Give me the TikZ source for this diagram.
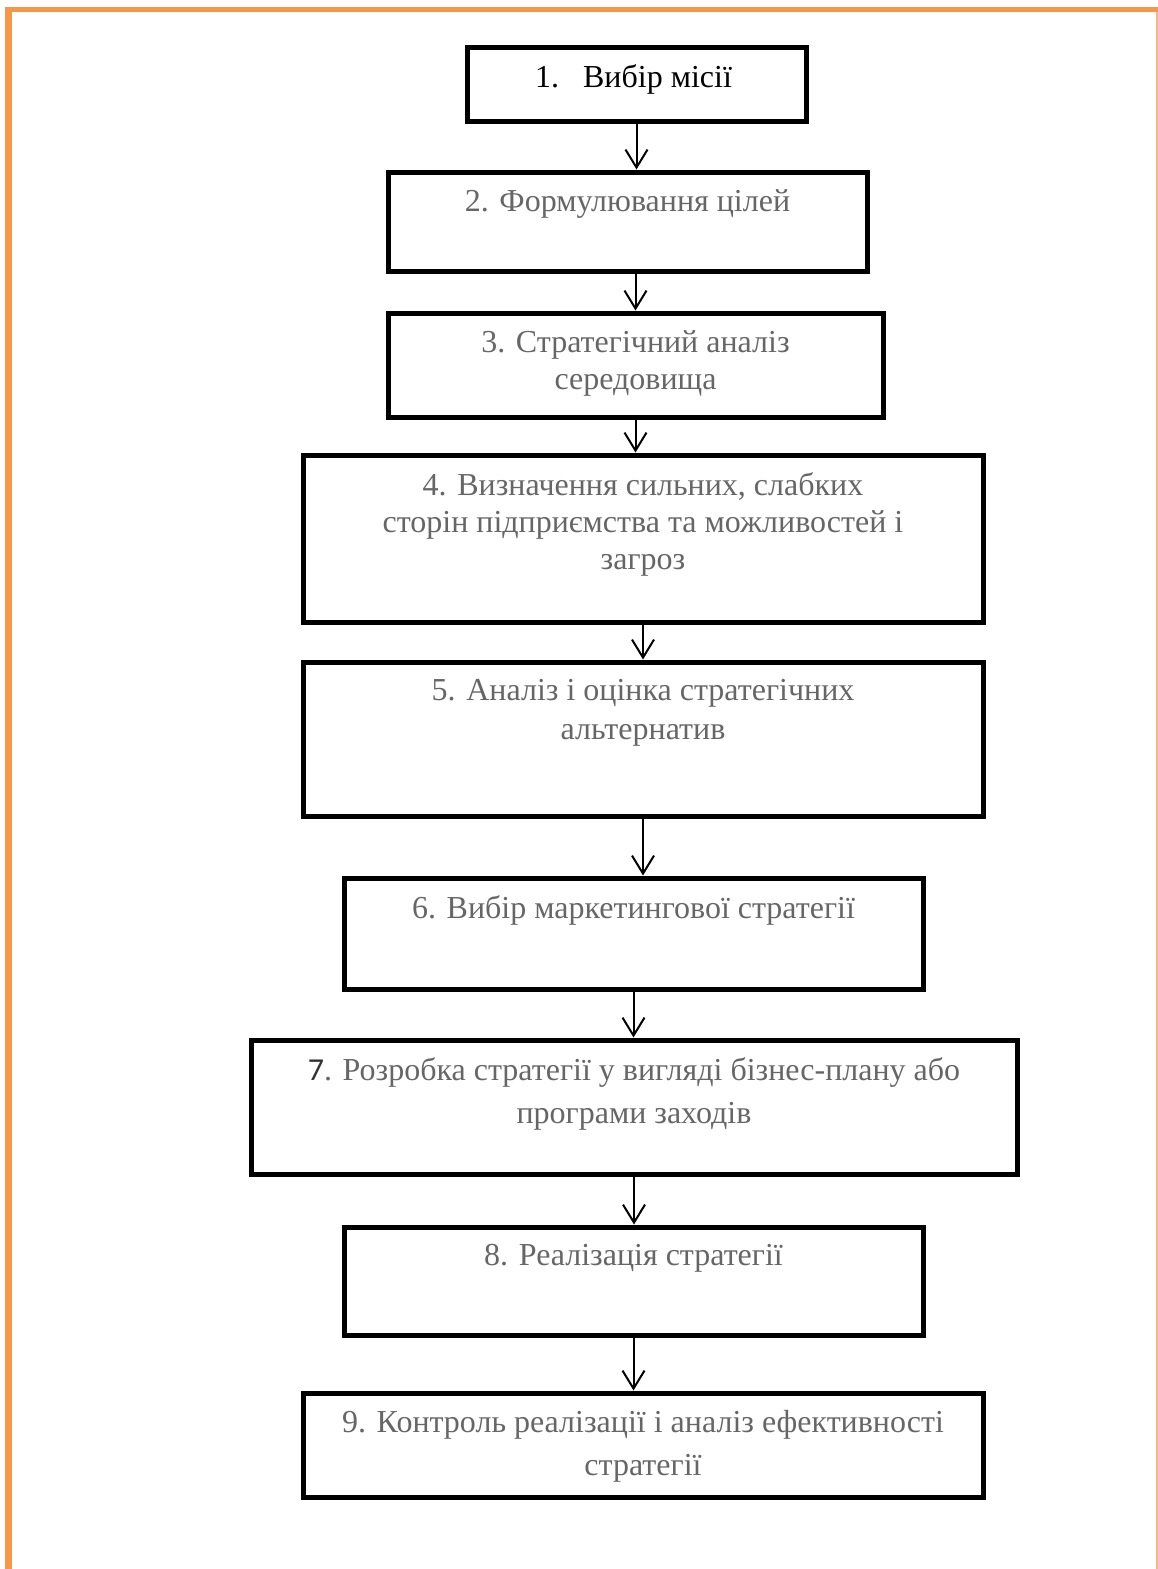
\documentclass[tikz,border=0pt]{standalone}
\usepackage{fontspec}
\setmainfont{Liberation Serif}
\newfontfamily\digitfont{Carlito}
\usetikzlibrary{arrows.meta,positioning}
\definecolor{frameorange}{RGB}{247,150,70}
\definecolor{textgray}{RGB}{102,102,102}
\tikzset{
  stepbox/.style={
    draw=black,
    line width=5pt,
    inner sep=0pt
  },
  steptext/.style={
    anchor=north,
    align=center,
    inner sep=0pt,
    text=textgray,
    font=\fontsize{32}{37}\selectfont
  },
  arrow/.style={
    -{Straight Barb[length=18pt,width=22pt]},
    line width=2pt
  }
}

\begin{document}
\begin{tikzpicture}[x=1pt,y=-1pt]
\useasboundingbox (0,0) rectangle (1158,1569);
% page frame
\fill[frameorange] (5,7) rectangle (12,1569);
\fill[frameorange] (5,7) rectangle (1158,12);
\fill[frameorange!70] (1156,12) rectangle (1158,1569);

\node[stepbox, minimum width=339pt, minimum height=74pt] (b1) at (636.5,84) {};
\node[stepbox, minimum width=479pt, minimum height=99pt] (b2) at (627.5,221.5) {};
\node[stepbox, minimum width=495pt, minimum height=104pt] (b3) at (635.5,365) {};
\node[stepbox, minimum width=680pt, minimum height=167pt] (b4) at (643,538.5) {};
\node[stepbox, minimum width=680pt, minimum height=154pt] (b5) at (643,739) {};
\node[stepbox, minimum width=579pt, minimum height=111pt] (b6) at (633.5,933.5) {};
\node[stepbox, minimum width=766pt, minimum height=134pt] (b7) at (634,1107) {};
\node[stepbox, minimum width=579pt, minimum height=108pt] (b8) at (633.5,1281) {};
\node[stepbox, minimum width=680pt, minimum height=104pt] (b9) at (643,1445) {};

\node[steptext, text=black, below=20pt of b1.north, xshift=-3pt] (t1) {1.\hspace{24pt}Вибір місії};
\node[steptext, below=20pt of b2.north] (t2) {2. Формулювання цілей};
\node[steptext, below=20pt of b3.north] (t3) {3. Стратегічний аналіз\\середовища};
\node[steptext, below=20pt of b4.north] (t4) {4. Визначення сильних, слабких\\сторін підприємства та можливостей і\\загроз};
\node[steptext, below=20pt of b5.north, font=\fontsize{32}{39}\selectfont] (t5) {5. Аналіз і оцінка стратегічних\\альтернатив};
\node[steptext, below=20pt of b6.north] (t6) {6. Вибір маркетингової стратегії};
\node[steptext, below=20pt of b7.north, font=\fontsize{32}{43}\selectfont] (t7) {{\digitfont\color{black!80}7}. Розробка стратегії у вигляді бізнес-плану або\\програми заходів};
\node[steptext, below=20pt of b8.north] (t8) {8. Реалізація стратегії};
\node[steptext, below=20pt of b9.north, font=\fontsize{32}{43}\selectfont] (t9) {9. Контроль реалізації і аналіз ефективності\\стратегії};

\draw[arrow] (b1.south) -- (b1.south |- b2.north);
\draw[arrow] (b2.south -| b3.north) -- (b3.north);
\draw[arrow] (b3.south) -- (b3.south |- b4.north);
\draw[arrow] (b4.south) -- (b5.north);
\draw[arrow] (b5.south) -- (b5.south |- b6.north);
\draw[arrow] (b6.south) -- (b6.south |- b7.north);
\draw[arrow] (b7.south) -- (b7.south |- b8.north);
\draw[arrow] (b8.south) -- (b8.south |- b9.north);
\end{tikzpicture}
\end{document}
